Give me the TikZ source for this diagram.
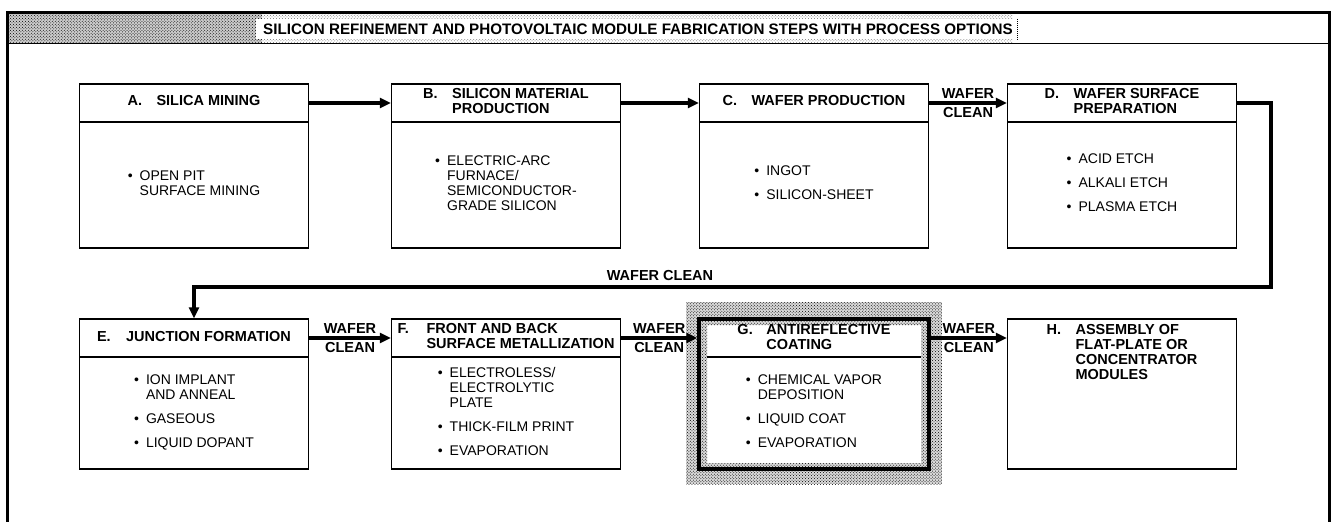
\documentclass[tikz,border=0pt]{standalone}
\usepackage{fontspec}
\setmainfont{Liberation Sans}
\usetikzlibrary{arrows.meta,patterns,calc}
\newcommand{\myhead}{\fontsize{14.5bp}{15bp}\selectfont\bfseries}
\newcommand{\mybody}{\fontsize{14bp}{15bp}\selectfont}
\newcommand{\mytitle}{\fontsize{15.2bp}{16bp}\selectfont\bfseries}
\newcommand{\hdr}[2]{\begin{tabular}{@{}l@{}l@{}}\makebox[29bp][l]{#1}&#2\end{tabular}}
\newcommand{\itemsgap}{\\[9bp]}
\begin{document}
\begin{tikzpicture}[x=1bp,y=-1bp,
  hbox/.style={draw, line width=1.4bp, minimum width=229bp, minimum height=38bp, inner sep=0pt, font=\myhead},
  bbox/.style={draw, line width=1.4bp, minimum width=229bp, inner sep=0pt, font=\mybody},
  tbox/.style={inner sep=0pt, font=\myhead},
  conn/.style={line width=3.5bp, -{Triangle[length=11bp,width=10bp]}},
  lbl/.style={font=\myhead, inner sep=3bp},
  halftone/.style={pattern=crosshatch dots, pattern color=black}]
\useasboundingbox (0,0) rectangle (1335,522);
% title band
\fill[black!20] (7,13) rectangle (262,44);
\fill[halftone] (7,13) rectangle (262,44);
\fill[pattern=crosshatch dots, pattern color=black!55] (262,13) rectangle (1012,44);
\fill[white] (256,19) rectangle (1017,39);
\draw[densely dotted, line width=1bp] (1017,19) -- (1017,39);
\node[font=\mytitle, inner sep=0pt] (title) at (638,29) {SILICON REFINEMENT AND PHOTOVOLTAIC MODULE FABRICATION STEPS WITH PROCESS OPTIONS};
% frame
\draw[line width=3bp] (7,522) -- (7,13) -- (1329,13) -- (1329,522);
\draw[line width=1bp] (7,44) -- (1329,44);

% row 1
\node[hbox] (hA) at (194,103) {\hdr{A.}{SILICA MINING}};
\node[bbox, minimum height=126bp] (bA) at (194,185) {\begin{tabular}{@{}l@{\hspace{7bp}}l@{}}\textbullet & OPEN PIT\\ & SURFACE MINING\end{tabular}};
\node[hbox] (hB) at (506,103) {\hdr{B.}{SILICON MATERIAL\\&PRODUCTION}};
\node[bbox, minimum height=126bp] (bB) at (506,185) {\begin{tabular}{@{}l@{\hspace{7bp}}l@{}}\textbullet & ELECTRIC-ARC\\ & FURNACE/\\ & SEMICONDUCTOR-\\ & GRADE SILICON\end{tabular}};
\node[hbox] (hC) at (814,103) {\hdr{C.}{WAFER PRODUCTION}};
\node[bbox, minimum height=126bp] (bC) at (814,185) {\begin{tabular}{@{}l@{\hspace{7bp}}l@{}}\textbullet & INGOT\itemsgap \textbullet & SILICON-SHEET\end{tabular}};
\node[hbox] (hD) at (1122,103) {\hdr{D.}{WAFER SURFACE\\&PREPARATION}};
\node[bbox, minimum height=126bp] (bD) at (1122,185) {\begin{tabular}{@{}l@{\hspace{7bp}}l@{}}\textbullet & ACID ETCH\itemsgap \textbullet & ALKALI ETCH\itemsgap \textbullet & PLASMA ETCH\end{tabular}};

% row 2
\node[hbox] (hE) at (194,338) {\hdr{E.}{JUNCTION FORMATION}};
\node[bbox, minimum height=112bp] (bE) at (194,413) {\begin{tabular}{@{}l@{\hspace{7bp}}l@{}}\textbullet & ION IMPLANT\\ & AND ANNEAL\itemsgap \textbullet & GASEOUS\itemsgap \textbullet & LIQUID DOPANT\end{tabular}};
\node[hbox] (hF) at (506,338) {\hdr{F.}{FRONT AND BACK\\&SURFACE METALLIZATION}};
\node[bbox, minimum height=112bp] (bF) at (506,413) {\begin{tabular}{@{}l@{\hspace{7bp}}l@{}}\textbullet & ELECTROLESS/\\ & ELECTROLYTIC\\ & PLATE\itemsgap \textbullet & THICK-FILM PRINT\itemsgap \textbullet & EVAPORATION\end{tabular}};

% G with halftone surround
\fill[black!15] (686,302) rectangle (942,484);
\fill[halftone] (686,302) rectangle (942,484);
\fill[white] (699,319) rectangle (929,469);
\fill[black!15, even odd rule] (699,319) rectangle (929,469) (707,325) rectangle (921,463);
\fill[halftone, even odd rule] (699,319) rectangle (929,469) (707,325) rectangle (921,463);
\node[draw, line width=3.5bp, minimum width=230bp, minimum height=150bp, inner sep=0pt] (G) at (814,394) {};
\node[tbox, minimum width=229bp, minimum height=38bp] (hG) at (814,339) {\hdr{G.}{ANTIREFLECTIVE\\&COATING}};
\draw[line width=1.4bp] (707,357) -- (921,357);
\node[tbox, font=\mybody] (bG) at (814,413) {\begin{tabular}{@{}l@{\hspace{7bp}}l@{}}\textbullet & CHEMICAL VAPOR\\ & DEPOSITION\itemsgap \textbullet & LIQUID COAT\itemsgap \textbullet & EVAPORATION\end{tabular}};

\node[draw, line width=1.4bp, minimum width=229bp, minimum height=150bp, inner sep=0pt] (H) at (1122,394) {};
\node[tbox, anchor=north] (hH) at (1122,324) {\hdr{H.}{ASSEMBLY OF\\&FLAT-PLATE OR\\&CONCENTRATOR\\&MODULES}};

% connectors
\draw[conn] (hA.east) -- (hB.west);
\draw[conn] (hB.east) -- (hC.west);
\draw[conn] (hC.east) -- node[lbl, above] (w1) {WAFER} node[lbl, below] (c1) {CLEAN} (hD.west);
\coordinate (turn) at (1271,287);
\draw[conn] (hD.east) -| (turn) -| (hE.north);
\node[lbl, anchor=south] (wc) at (660,284) {WAFER CLEAN};
\draw[conn] (hE.east) -- node[lbl, above] (w2) {WAFER} node[lbl, below] (c2) {CLEAN} (hF.west);
\draw[conn] (hF.east) -- node[lbl, above] (w3) {WAFER} node[lbl, below] (c3) {CLEAN} (G.west |- hE.east);
\draw[conn] (G.east |- hE.east) -- node[lbl, above] (w4) {WAFER} node[lbl, below] (c4) {CLEAN} (H.west |- hE.east);
\end{tikzpicture}
\end{document}
